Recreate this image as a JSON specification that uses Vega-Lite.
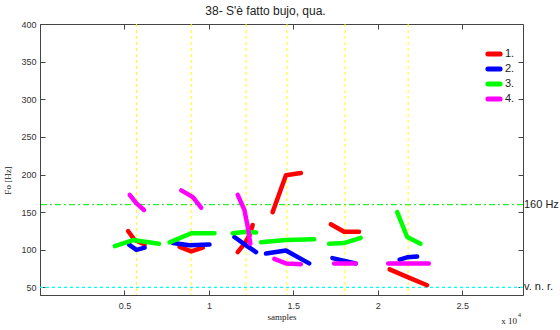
{
  "$schema": "https://vega.github.io/schema/vega-lite/v6.json",
  "width": 483,
  "height": 271,
  "autosize": {"type": "none"},
  "padding": {"left": 40, "top": 24, "right": 37, "bottom": 35},
  "background": "white",
  "title": {"text": "38- S'è fatto bujo, qua.", "fontSize": 12, "font": "Liberation Sans", "fontWeight": "normal", "offset": 2, "dx": -16, "color": "#222"},
  "config": {
    "view": {"stroke": "#444", "strokeWidth": 1},
    "axis": {"domainColor": "#444", "tickColor": "#444", "labelFont": "Liberation Sans", "labelFontSize": 9, "labelColor": "#333", "titleFont": "Liberation Serif", "titleFontSize": 9, "titleFontWeight": "normal", "titleColor": "#222", "grid": false, "tickSize": -5}
  },
  "datasets": {
    "f0": [
      {"s": "1.", "g": 1, "x": 5215, "y": 125}, {"s": "1.", "g": 1, "x": 5608, "y": 113}, {"s": "1.", "g": 1, "x": 6198, "y": 107},
      {"s": "2.", "g": 2, "x": 5272, "y": 107}, {"s": "2.", "g": 2, "x": 5708, "y": 100}, {"s": "2.", "g": 2, "x": 6198, "y": 103},
      {"s": "3.", "g": 3, "x": 4427, "y": 105}, {"s": "3.", "g": 3, "x": 5508, "y": 113}, {"s": "3.", "g": 3, "x": 7042, "y": 108},
      {"s": "4.", "g": 4, "x": 5313, "y": 173}, {"s": "4.", "g": 4, "x": 5700, "y": 162}, {"s": "4.", "g": 4, "x": 6157, "y": 153},
      {"s": "1.", "g": 5, "x": 8264, "y": 104}, {"s": "1.", "g": 5, "x": 8955, "y": 98}, {"s": "1.", "g": 5, "x": 9640, "y": 103},
      {"s": "2.", "g": 6, "x": 7869, "y": 109}, {"s": "2.", "g": 6, "x": 8855, "y": 106}, {"s": "2.", "g": 6, "x": 10035, "y": 107},
      {"s": "3.", "g": 7, "x": 7674, "y": 110}, {"s": "3.", "g": 7, "x": 8955, "y": 122}, {"s": "3.", "g": 7, "x": 10331, "y": 122},
      {"s": "4.", "g": 8, "x": 8365, "y": 179}, {"s": "4.", "g": 8, "x": 9050, "y": 170}, {"s": "4.", "g": 8, "x": 9545, "y": 156},
      {"s": "1.", "g": 9, "x": 11706, "y": 97}, {"s": "1.", "g": 9, "x": 12102, "y": 108}, {"s": "1.", "g": 9, "x": 12397, "y": 119}, {"s": "1.", "g": 9, "x": 12594, "y": 133},
      {"s": "2.", "g": 10, "x": 11511, "y": 117}, {"s": "2.", "g": 10, "x": 12202, "y": 106}, {"s": "2.", "g": 10, "x": 12793, "y": 97},
      {"s": "3.", "g": 11, "x": 11411, "y": 122}, {"s": "3.", "g": 11, "x": 12202, "y": 124}, {"s": "3.", "g": 11, "x": 12793, "y": 123},
      {"s": "4.", "g": 12, "x": 11706, "y": 173}, {"s": "4.", "g": 12, "x": 12102, "y": 153}, {"s": "4.", "g": 12, "x": 12297, "y": 131}, {"s": "4.", "g": 12, "x": 12456, "y": 108},
      {"s": "1.", "g": 13, "x": 13772, "y": 150}, {"s": "1.", "g": 13, "x": 14563, "y": 199}, {"s": "1.", "g": 13, "x": 15449, "y": 202},
      {"s": "2.", "g": 14, "x": 13382, "y": 95}, {"s": "2.", "g": 14, "x": 14563, "y": 99}, {"s": "2.", "g": 14, "x": 15939, "y": 82},
      {"s": "3.", "g": 15, "x": 13087, "y": 110}, {"s": "3.", "g": 15, "x": 14563, "y": 113}, {"s": "3.", "g": 15, "x": 16234, "y": 114},
      {"s": "4.", "g": 16, "x": 13872, "y": 88}, {"s": "4.", "g": 16, "x": 14563, "y": 82}, {"s": "4.", "g": 16, "x": 15449, "y": 81},
      {"s": "1.", "g": 17, "x": 17219, "y": 134}, {"s": "1.", "g": 17, "x": 18005, "y": 124}, {"s": "1.", "g": 17, "x": 18890, "y": 124},
      {"s": "2.", "g": 18, "x": 17314, "y": 89}, {"s": "2.", "g": 18, "x": 17904, "y": 86}, {"s": "2.", "g": 18, "x": 18695, "y": 82},
      {"s": "3.", "g": 19, "x": 17119, "y": 108}, {"s": "3.", "g": 19, "x": 18005, "y": 109}, {"s": "3.", "g": 19, "x": 18990, "y": 116},
      {"s": "4.", "g": 20, "x": 17414, "y": 82}, {"s": "4.", "g": 20, "x": 18695, "y": 82},
      {"s": "1.", "g": 21, "x": 20702, "y": 74}, {"s": "1.", "g": 21, "x": 21842, "y": 63}, {"s": "1.", "g": 21, "x": 22922, "y": 53},
      {"s": "2.", "g": 22, "x": 21292, "y": 87}, {"s": "2.", "g": 22, "x": 21741, "y": 90}, {"s": "2.", "g": 22, "x": 22332, "y": 91},
      {"s": "3.", "g": 23, "x": 21151, "y": 150}, {"s": "3.", "g": 23, "x": 21741, "y": 117}, {"s": "3.", "g": 23, "x": 22532, "y": 108},
      {"s": "4.", "g": 24, "x": 20620, "y": 82}, {"s": "4.", "g": 24, "x": 23022, "y": 82}
    ],
    "bounds": [{"x": 5708}, {"x": 8955}, {"x": 12202}, {"x": 14622}, {"x": 18064}, {"x": 21800}],
    "refs": [{"y": 160, "label": "160 Hz"}, {"y": 50, "label": "v. n. r."}]
  },
  "resolve": {"axis": {"x": "independent", "y": "independent"}},
  "layer": [
    {
      "data": {"name": "bounds"},
      "mark": {"type": "rule", "color": "#ffff00", "strokeWidth": 1, "strokeDash": [3, 3]},
      "encoding": {
        "x": {"field": "x", "type": "quantitative", "scale": {"domain": [0, 28600], "nice": false, "zero": false},
          "axis": {"orient": "top", "labels": false, "domain": false, "title": null, "values": [5000, 10000, 15000, 20000, 25000]}}
      }
    },
    {
      "data": {"name": "refs"},
      "transform": [{"filter": "datum.y == 160"}],
      "mark": {"type": "rule", "color": "#00ee00", "strokeWidth": 1, "strokeDash": [6, 3, 2, 3]},
      "encoding": {
        "y": {"field": "y", "type": "quantitative", "scale": {"domain": [40, 400], "nice": false, "zero": false},
          "axis": {"orient": "right", "labels": false, "domain": false, "title": null, "values": [50, 100, 150, 200, 250, 300, 350, 400]}}
      }
    },
    {
      "data": {"name": "refs"},
      "transform": [{"filter": "datum.y == 50"}],
      "mark": {"type": "rule", "color": "#00ffff", "strokeWidth": 1.2, "strokeDash": [3, 3]},
      "encoding": {
        "y": {"field": "y", "type": "quantitative", "scale": {"domain": [40, 400], "nice": false, "zero": false}, "axis": null}
      }
    },
    {
      "data": {"name": "f0"},
      "mark": {"type": "line", "strokeWidth": 4.5, "strokeCap": "round", "strokeJoin": "round"},
      "encoding": {
        "x": {"field": "x", "type": "quantitative", "scale": {"domain": [0, 28600], "nice": false, "zero": false},
          "axis": {"orient": "bottom", "values": [5000, 10000, 15000, 20000, 25000], "labelExpr": "datum.value / 10000", "title": "samples", "labelPadding": 11, "titlePadding": 2}},
        "y": {"field": "y", "type": "quantitative", "scale": {"domain": [40, 400], "nice": false, "zero": false},
          "axis": {"orient": "left", "values": [50, 100, 150, 200, 250, 300, 350, 400], "title": "Fo [Hz]", "labelPadding": 9, "titleX": -28, "titleY": 156}},
        "color": {"field": "s", "type": "nominal",
          "scale": {"domain": ["1.", "2.", "3.", "4."], "range": ["#ff0000", "#0000ff", "#00ff00", "#ff00ff"]},
          "legend": {"orient": "none", "legendX": 445, "legendY": 23, "title": null, "symbolType": "stroke", "symbolStrokeWidth": 5, "symbolSize": 150, "clipHeight": 14, "labelFontSize": 11, "labelFont": "Liberation Sans", "labelColor": "#222", "rowPadding": 1, "labelOffset": 2,
            "encode": {"symbols": {"update": {"strokeCap": {"value": "round"}}}}}},
        "detail": {"field": "g", "type": "nominal"}
      }
    },
    {
      "data": {"name": "refs"},
      "mark": {"type": "text", "align": "left", "baseline": "middle", "dx": 1, "fontSize": 11, "font": "Liberation Sans", "color": "#222"},
      "encoding": {
        "x": {"datum": 28600, "type": "quantitative", "scale": {"domain": [0, 28600], "nice": false, "zero": false}, "axis": null},
        "y": {"field": "y", "type": "quantitative", "scale": {"domain": [40, 400], "nice": false, "zero": false}, "axis": null},
        "text": {"field": "label"}
      }
    },
    {
      "data": {"values": [{"t": "x 10"}]},
      "mark": {"type": "text", "align": "right", "baseline": "middle", "dx": -6, "dy": 26, "fontSize": 9, "font": "Liberation Serif", "color": "#222"},
      "encoding": {
        "x": {"datum": 28600, "type": "quantitative", "axis": null},
        "y": {"datum": 40, "type": "quantitative", "axis": null},
        "text": {"field": "t"}
      }
    },
    {
      "data": {"values": [{"t": "4"}]},
      "mark": {"type": "text", "align": "left", "baseline": "middle", "dx": -5, "dy": 20, "fontSize": 6, "font": "Liberation Serif", "color": "#222"},
      "encoding": {
        "x": {"datum": 28600, "type": "quantitative", "axis": null},
        "y": {"datum": 40, "type": "quantitative", "axis": null},
        "text": {"field": "t"}
      }
    }
  ]
}
